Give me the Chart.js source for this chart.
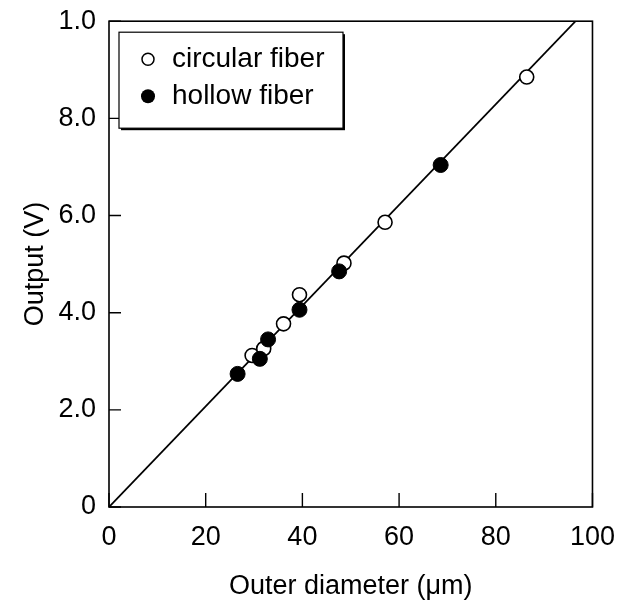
<!DOCTYPE html>
<html>
<head>
<meta charset="utf-8">
<script src="https://cdn.jsdelivr.net/npm/chart.js@4"></script>
<style>
  html, body { margin: 0; padding: 0; background: #ffffff; }
  #wrap { width: 621px; height: 611px; }
</style>
</head>
<body>
<div id="wrap"><canvas id="c" width="621" height="611"></canvas></div>
<script>
// ---- data ----
const circularX = [29.6, 32.0, 36.1, 39.4, 48.6, 57.1, 86.4];
const circularY = [3.12, 3.26, 3.77, 4.37, 5.02, 5.86, 8.85];
const hollowX = [26.6, 31.2, 32.9, 39.4, 47.6, 68.6];
const hollowY = [2.74, 3.05, 3.45, 4.06, 4.85, 7.04];
const fitX = [0, 96.5];
const fitY = [0, 10.0];
const xTickValues = [0, 20, 40, 60, 80, 100];
const yTickValues = [0, 2, 4, 6, 8, 10];
const yTickLabels = ['0', '2.0', '4.0', '6.0', '8.0', '1.0'];
const seriesNames = ['circular fiber', 'hollow fiber'];
const xTitle = 'Outer diameter (\u03bcm)';
const yTitle = 'Output (V)';

const FONT = "'Liberation Sans', Arial, Helvetica, sans-serif";
const toPts = (xs, ys) => xs.map((x, i) => ({ x: x, y: ys[i] }));

const framePlugin = {
  id: 'frame',
  beforeDatasetsDraw(chart) {
    const { ctx, chartArea: a, scales } = chart;
    ctx.save();
    ctx.strokeStyle = '#000';
    ctx.lineWidth = 1.6;
    ctx.strokeRect(a.left, a.top, a.right - a.left, a.bottom - a.top);
    ctx.lineWidth = 1.4;
    ctx.beginPath();
    xTickValues.forEach(v => {
      const px = scales.x.getPixelForValue(v);
      ctx.moveTo(px, a.bottom);
      ctx.lineTo(px, a.bottom - 14);
    });
    yTickValues.forEach(v => {
      const py = scales.y.getPixelForValue(v);
      ctx.moveTo(a.left, py);
      ctx.lineTo(a.left + 12, py);
    });
    ctx.stroke();
    ctx.restore();
  },
  afterDraw(chart) {
    const { ctx, chartArea: a } = chart;
    const bx = a.left + 10, by = a.top + 11, bw = 224, bh = 96;
    ctx.save();
    ctx.fillStyle = '#000';
    ctx.fillRect(bx + 2, by + 2, bw, bh);
    ctx.fillStyle = '#fff';
    ctx.fillRect(bx, by, bw, bh);
    ctx.strokeStyle = '#000';
    ctx.lineWidth = 1.2;
    ctx.strokeRect(bx, by, bw, bh);
    ctx.font = '28px ' + FONT;
    ctx.textBaseline = 'middle';
    ctx.textAlign = 'left';
    const rows = [by + 27, by + 64];
    // circular
    ctx.beginPath();
    ctx.arc(bx + 29, rows[0], 6, 0, Math.PI * 2);
    ctx.fillStyle = '#fff';
    ctx.fill();
    ctx.lineWidth = 1.5;
    ctx.stroke();
    ctx.fillStyle = '#000';
    ctx.fillText(seriesNames[0], bx + 53, rows[0]);
    // hollow
    ctx.beginPath();
    ctx.arc(bx + 29, rows[1], 7, 0, Math.PI * 2);
    ctx.fill();
    ctx.fillText(seriesNames[1], bx + 53, rows[1]);
    ctx.restore();
  }
};

new Chart(document.getElementById('c'), {
  type: 'scatter',
  data: {
    datasets: [
      {
        label: seriesNames[1],
        data: toPts(hollowX, hollowY),
        order: 0,
        pointRadius: 7.5,
        pointHoverRadius: 7.5,
        pointBackgroundColor: '#000',
        pointBorderColor: '#000',
        pointBorderWidth: 1
      },
      {
        label: seriesNames[0],
        data: toPts(circularX, circularY),
        order: 1,
        pointRadius: 7,
        pointHoverRadius: 7,
        pointBackgroundColor: '#fff',
        pointBorderColor: '#000',
        pointBorderWidth: 1.6
      },
      {
        label: 'fit',
        data: toPts(fitX, fitY),
        order: 2,
        showLine: true,
        borderColor: '#000',
        borderWidth: 1.8,
        pointRadius: 0,
        pointHoverRadius: 0
      }
    ]
  },
  options: {
    responsive: false,
    animation: false,
    events: [],
    layout: { padding: { left: 0, right: 24, top: 20, bottom: 0 } },
    plugins: { legend: { display: false }, tooltip: { enabled: false } },
    scales: {
      x: {
        type: 'linear',
        min: 0, max: 100,
        afterFit(s) { s.height = 104; },
        grid: { display: false },
        border: { display: false },
        ticks: {
          stepSize: 20,
          padding: 6,
          color: '#000',
          font: { family: FONT, size: 27 }
        },
        title: {
          display: true,
          text: xTitle,
          color: '#000',
          font: { family: FONT, size: 27 },
          padding: { top: 0, bottom: 8 }
        }
      },
      y: {
        type: 'linear',
        min: 0, max: 10,
        afterFit(s) { s.width = 109; },
        grid: { display: false },
        border: { display: false },
        ticks: {
          stepSize: 2,
          padding: 5,
          color: '#000',
          font: { family: FONT, size: 27 },
          callback: (v) => {
            const i = yTickValues.indexOf(v);
            return i >= 0 ? yTickLabels[i] : '';
          }
        },
        title: {
          display: true,
          text: yTitle,
          color: '#000',
          font: { family: FONT, size: 27 },
          padding: { top: 19, bottom: 0 }
        }
      }
    }
  },
  plugins: [framePlugin]
});
</script>
</body>
</html>
